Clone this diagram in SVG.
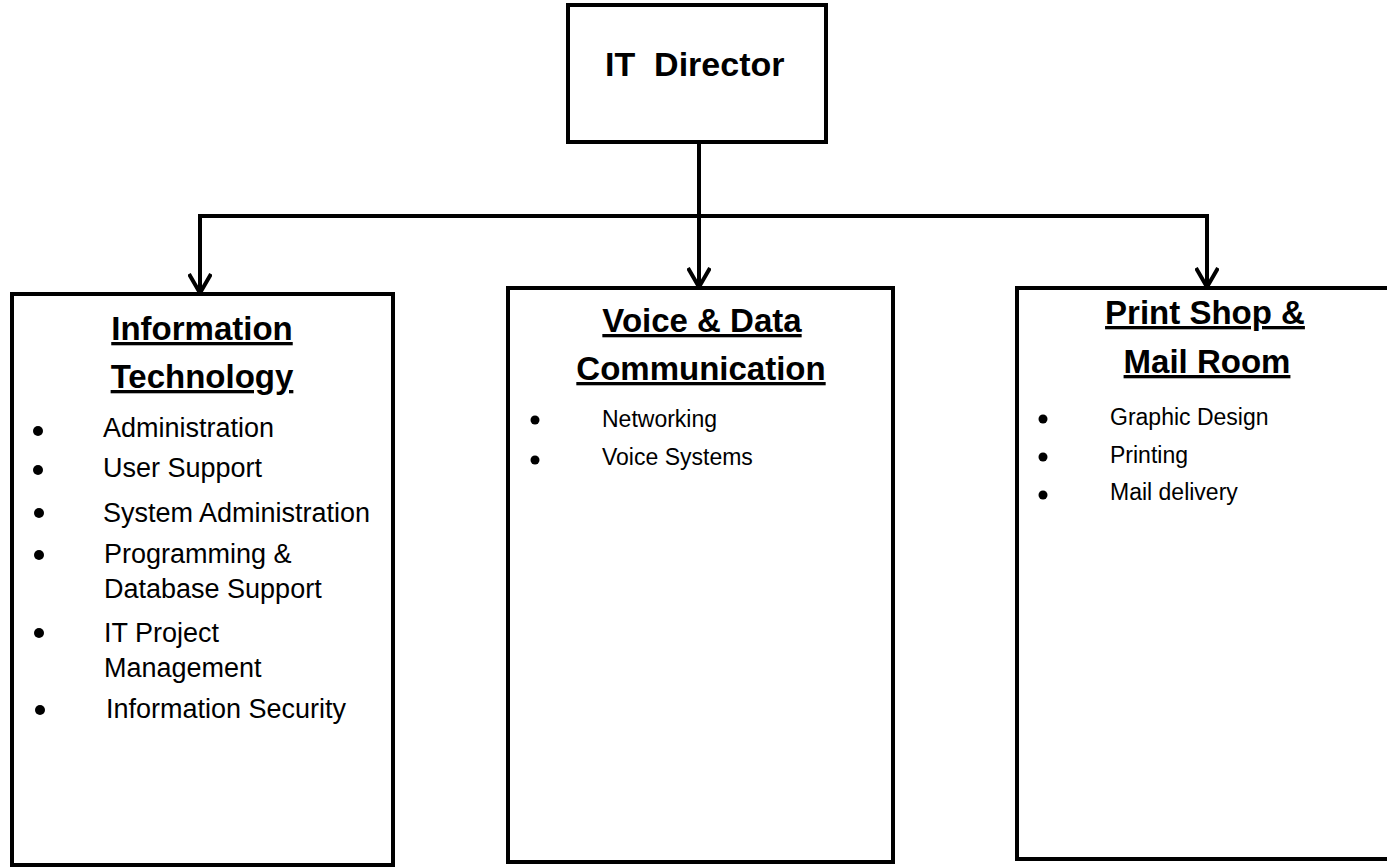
<svg xmlns="http://www.w3.org/2000/svg" width="1387" height="867" viewBox="0 0 1387 867">
<defs>
<style>
.box{fill:#fff;stroke:#000;stroke-width:4}
.con{fill:none;stroke:#000;stroke-width:4}
.t{font-family:"Liberation Sans",Arial,sans-serif;fill:#000}
.dir{font-size:34px;font-weight:bold}
.title{font-size:33px;font-weight:bold;text-decoration:underline;text-anchor:middle}
.item{font-size:27px}
.item2{font-size:23px}
</style>
<marker id="arr" viewBox="0 0 24 24" refX="22" refY="12" markerWidth="24" markerHeight="24" markerUnits="userSpaceOnUse" orient="auto">
<path d="M3,1 L22,12 L3,23" fill="none" stroke="#000" stroke-width="4"/>
</marker>
</defs>
<rect width="1387" height="867" fill="#fff"/>
<g id="connectors">
<line class="con" x1="699" y1="142" x2="699" y2="287" marker-end="url(#arr)"/>
<polyline class="con" points="200,293 200,216 1207,216 1207,287" marker-end="url(#arr)"/>
<line class="con" x1="200" y1="216" x2="200" y2="293" marker-end="url(#arr)"/>
</g>
<g id="it-director">
<rect class="box" x="568" y="5" width="258" height="137"/>
<text class="t dir" x="605" y="76" xml:space="preserve">IT  Director</text>
</g>
<g id="information-technology">
<rect class="box" x="12" y="294" width="381" height="571"/>
<text class="t title" x="202" y="340">Information</text>
<text class="t title" x="202" y="388">Technology</text>
<circle cx="38" cy="431" r="5"/><text class="t item" x="103" y="437">Administration</text>
<circle cx="38" cy="470" r="5"/><text class="t item" x="103" y="477">User Support</text>
<circle cx="39" cy="513" r="5"/><text class="t item" x="103" y="522">System Administration</text>
<circle cx="39" cy="555" r="5"/><text class="t item" x="104" y="563">Programming &amp;</text>
<text class="t item" x="104" y="598">Database Support</text>
<circle cx="39" cy="633" r="5"/><text class="t item" x="104" y="642">IT Project</text>
<text class="t item" x="104" y="677">Management</text>
<circle cx="40" cy="710" r="5"/><text class="t item" x="106" y="718">Information Security</text>
</g>
<g id="voice-data">
<rect class="box" x="508" y="288" width="385" height="574"/>
<text class="t title" x="702" y="332">Voice &amp; Data</text>
<text class="t title" x="701" y="380">Communication</text>
<circle cx="535" cy="420" r="4.5"/><text class="t item2" x="602" y="427">Networking</text>
<circle cx="535" cy="460" r="4.5"/><text class="t item2" x="602" y="465">Voice Systems</text>
</g>
<g id="print-mail">
<rect class="box" x="1017" y="288" width="400" height="571"/>
<text class="t title" x="1205" y="324">Print Shop &amp;</text>
<text class="t title" x="1207" y="373">Mail Room</text>
<circle cx="1043" cy="419" r="4.5"/><text class="t item2" x="1110" y="425">Graphic Design</text>
<circle cx="1043" cy="457" r="4.5"/><text class="t item2" x="1110" y="463">Printing</text>
<circle cx="1043" cy="495" r="4.5"/><text class="t item2" x="1110" y="500">Mail delivery</text>
</g>
</svg>
